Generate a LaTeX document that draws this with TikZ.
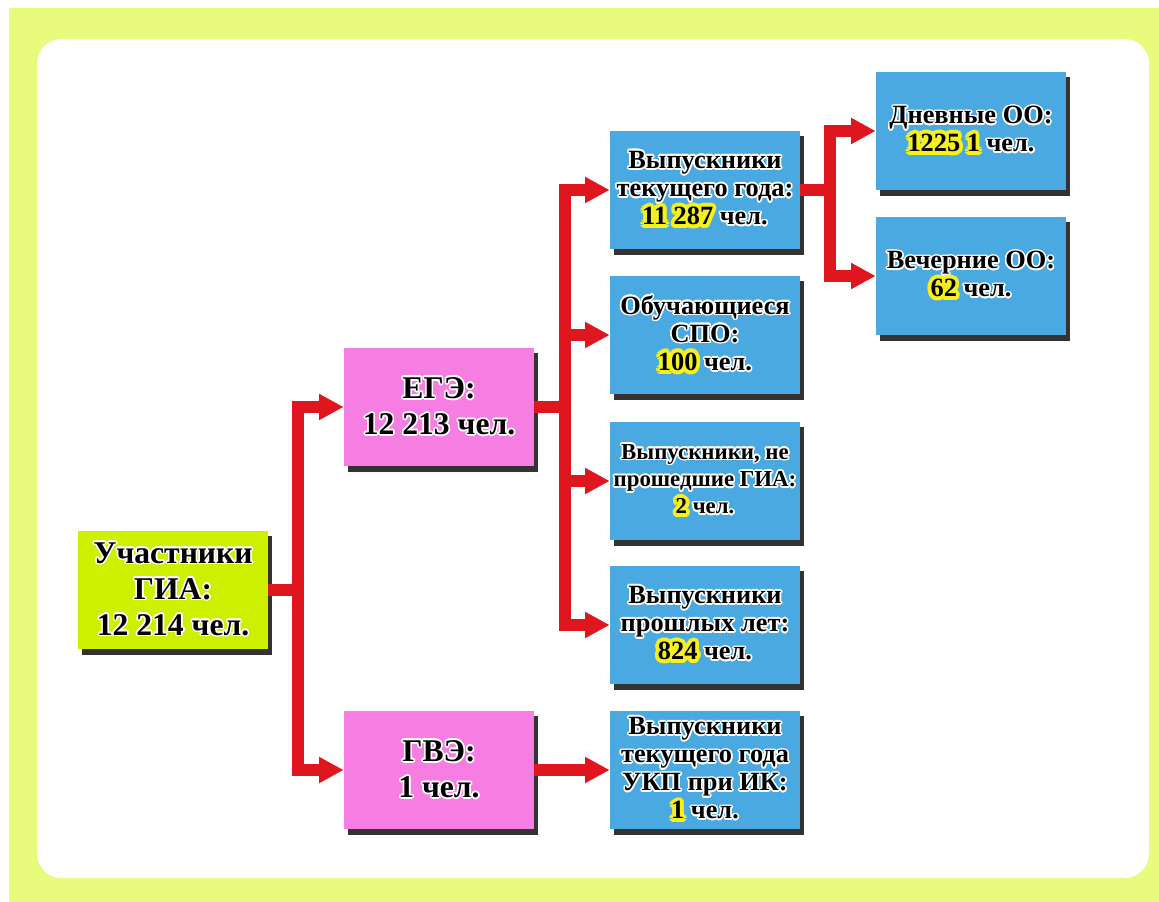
\documentclass[tikz,border=0pt]{standalone}
\usepackage{fontspec}
\setmainfont{Liberation Serif}
\usepackage[copies]{contour}
\usetikzlibrary{arrows.meta,shadows}

\definecolor{bggreen}{HTML}{E8FB7C}
\definecolor{giagreen}{HTML}{CCF000}
\definecolor{boxpink}{HTML}{F67EE2}
\definecolor{boxblue}{HTML}{4BA9E2}
\definecolor{arrowred}{HTML}{E0161E}
\definecolor{hlyellow}{HTML}{F5F01E}

\contourlength{0.9pt}
\newcommand{\ct}[1]{\contour{white}{#1}}
\newcommand{\hl}[1]{{\contourlength{2.2pt}\contour{hlyellow}{#1}}}

\tikzset{
  box/.style={minimum width=3.8cm, minimum height=2.38cm, inner sep=1pt, align=center,
    drop shadow={shadow xshift=2.5pt, shadow yshift=-3pt, opacity=0.8, fill=black}},
  bigbox/.style={box, font=\fontsize{18}{20.5}\selectfont\bfseries},
  bluebox/.style={box, fill=boxblue, font=\fontsize{15}{16}\selectfont\bfseries},
  redarrow/.style={draw=arrowred, line width=6.8pt, line join=miter,
    -{Triangle[length=14pt,width=14pt]}}
}

\begin{document}
\begin{tikzpicture}[x=0.02cm,y=-0.02cm]
\useasboundingbox (0,0) rectangle (1159,902);
\fill[bggreen] (9,8) rectangle (1159,902);
\fill[white,rounded corners=14pt] (37,39) rectangle (1149,878);

% left part
\node[bigbox,fill=giagreen] (gia) at (173,590) {\ct{Участники}\\\ct{ГИА:}\\\ct{12 214 чел.}};
\node[bigbox,fill=boxpink] (ege) at (439,407) {\ct{ЕГЭ:}\\\ct{12 213 чел.}};
\node[bigbox,fill=boxpink] (gve) at (439,770) {\ct{ГВЭ:}\\\ct{1 чел.}};

% middle column
\node[bluebox] (cur) at (705,190) {\ct{Выпускники}\\\ct{текущего года:}\\\hl{11 287} \ct{чел.}};
\node[bluebox] (spo) at (705,335) {\ct{Обучающиеся}\\\ct{СПО:}\\\hl{100} \ct{чел.}};
\node[bluebox,font=\fontsize{13}{15.5}\selectfont\bfseries] (ngia) at (705,481) {\ct{Выпускники, не}\\\ct{прошедшие ГИА:}\\\hl{2} \ct{чел.}};
\node[bluebox] (past) at (705,625) {\ct{Выпускники}\\\ct{прошлых лет:}\\\hl{824} \ct{чел.}};
\node[bluebox] (ukp) at (705,770) {\ct{Выпускники}\\\ct{текущего года}\\\ct{УКП при ИК:}\\\hl{1} \ct{чел.}};

% right column
\node[bluebox] (day) at (971,131) {\ct{Дневные ОО:}\\\hl{1225} \hl{1} \ct{чел.}};
\node[bluebox] (eve) at (971,276) {\ct{Вечерние ОО:}\\\hl{62} \ct{чел.}};

% connectors
\coordinate (j1) at (298,590);
\coordinate (j2) at (565,407);
\coordinate (j3) at (830,190);
\draw[redarrow] (gia.east) -- (j1) |- (ege.west);
\draw[redarrow] (j1) |- (gve.west);
\draw[redarrow] (ege.east) -- (j2) |- (cur.west);
\foreach \n in {spo,ngia,past}
\draw[redarrow] (j2) |- (\n.west);
\draw[redarrow] (cur.east) -- (j3) |- (day.west);
\draw[redarrow] (j3) |- (eve.west);
\draw[redarrow] (gve) -- (ukp);
\end{tikzpicture}
\end{document}
